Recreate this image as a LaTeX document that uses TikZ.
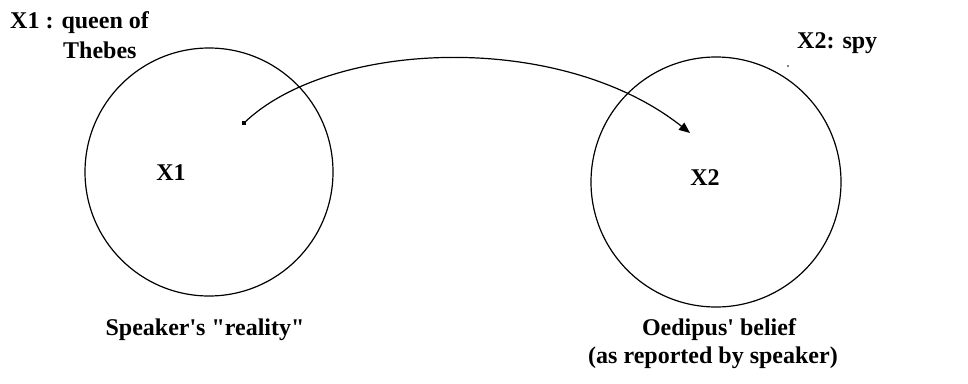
\documentclass[tikz,border=0pt]{standalone}
\usepackage{fontspec}
\setmainfont{Liberation Serif}
\usetikzlibrary{arrows.meta}
\begin{document}
\begin{tikzpicture}[x=1pt,y=-1pt,
  lbl/.style={font=\bfseries\fontsize{24}{29}\selectfont, inner sep=0pt},
  ring/.style={draw, line width=1.2pt, circle, inner sep=0pt},
  link/.style={line width=1.2pt, -{Triangle[length=11pt,width=9pt]}}]
\useasboundingbox (0,0) rectangle (968,383);
\node[ring, minimum size=248pt] (c1) at (209,172) {};
\node[ring, minimum size=250pt] (c2) at (716,182) {};
\node[lbl] (x1) at (171,173) {X1};
\node[lbl] (x2) at (705,178) {X2};
\node[lbl, anchor=base west] (t1) at (10,28) {X1 : queen of};
\node[lbl, anchor=base west] (t2) at (63,58) {Thebes};
\node[lbl, anchor=base west] (t3) at (797,48) {X2: spy};
\node[lbl, anchor=base] (b1) at (205,335) {Speaker\textquotesingle s \textquotedbl reality\textquotedbl};
\node[lbl, anchor=base] (b2) at (719,335) {Oedipus\textquotesingle\ belief};
\node[lbl, anchor=base] (b3) at (713,363) {(as reported by speaker)};
\node[fill, minimum size=4pt, inner sep=0pt] (dot) at (244,123) {};
\node[fill, circle, minimum size=1.6pt, inner sep=0pt] (speck) at (788,66) {};
\coordinate (tip) at (690,133);
\draw[link] (dot.center) .. controls (330,40) and (560,30) .. (tip);
\end{tikzpicture}
\end{document}
